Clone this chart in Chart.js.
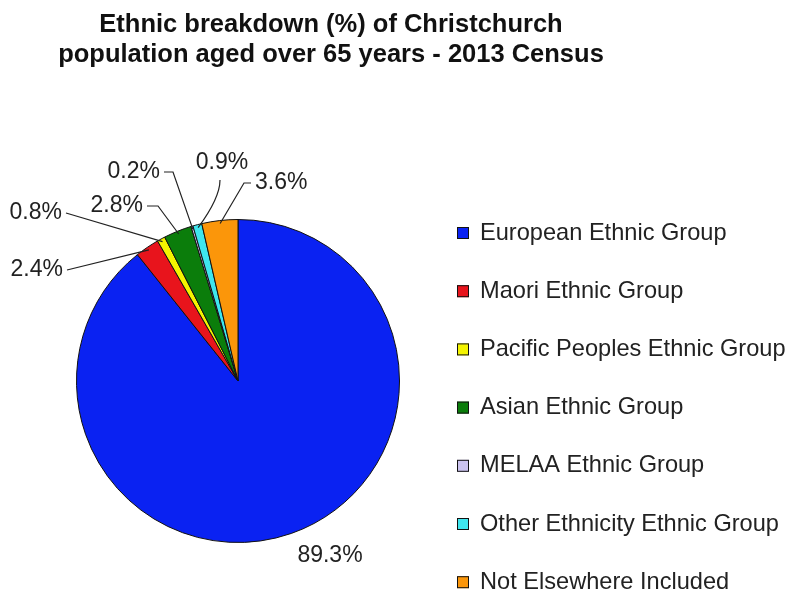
<!DOCTYPE html>
<html>
<head>
<meta charset="utf-8">
<script src="https://cdn.jsdelivr.net/npm/chart.js@4.4.1/dist/chart.umd.min.js"></script>
<style>
  html, body { margin: 0; padding: 0; background: #ffffff; }
  #wrap { width: 792px; height: 593px; }
</style>
</head>
<body>
<div id="wrap"><canvas id="myChart" width="792" height="593"></canvas></div>
<script>
const titleLines = [
  "Ethnic breakdown (%) of Christchurch",
  "population aged over 65 years - 2013 Census",
];
const groups = [
  "European Ethnic Group",
  "Maori Ethnic Group",
  "Pacific Peoples Ethnic Group",
  "Asian Ethnic Group",
  "MELAA Ethnic Group",
  "Other Ethnicity Ethnic Group",
  "Not Elsewhere Included",
];
const shares = [89.3, 2.4, 0.8, 2.8, 0.2, 0.9, 3.6];
const sliceColors = [
  "#0a22f2", "#e8141c", "#f4f400", "#0b7d0b", "#cbc3ef", "#3ee6ee", "#fb960a",
];

// where each percentage label sits, relative to the pie centre
const labelSpots = [
  { dx: 92, dy: 175, align: "center", line: "none" },
  { dx: -175, dy: -111, align: "right", line: "straight" },
  { dx: -176, dy: -168, align: "right", line: "straight" },
  { dx: -95, dy: -175, align: "right", line: "elbow", elbow: 11 },
  { dx: -78, dy: -209, align: "right", line: "elbow", elbow: 9 },
  { dx: -16, dy: -218, align: "center", line: "below" },
  { dx: 17, dy: -198, align: "left", line: "elbow", elbow: 7 },
];

const FONT = "'Liberation Sans', Arial, Helvetica, sans-serif";

const piePainter = {
  id: "piePainter",
  beforeDraw(chart) {
    const ctx = chart.ctx;
    ctx.save();
    ctx.fillStyle = "#ffffff";
    ctx.fillRect(0, 0, chart.width, chart.height);
    ctx.restore();
  },
  afterDraw(chart) {
    const ctx = chart.ctx;
    ctx.save();

    // title
    ctx.fillStyle = "#111111";
    ctx.font = "bold 25.5px " + FONT;
    ctx.textAlign = "center";
    ctx.textBaseline = "middle";
    titleLines.forEach((t, i) => ctx.fillText(t, 331, 25 + i * 30));

    // percentage labels with leader lines
    const meta = chart.getDatasetMeta(0);
    ctx.font = "23px " + FONT;
    ctx.strokeStyle = "#222222";
    ctx.lineWidth = 1.2;
    meta.data.forEach((arc, i) => {
      const p = arc.getProps(["x", "y", "startAngle", "endAngle", "outerRadius"], true);
      const spot = labelSpots[i];
      const tx = p.x + spot.dx;
      const ty = p.y + spot.dy;
      const mid = (p.startAngle + p.endAngle) / 2;
      const ex = p.x + Math.cos(mid) * (p.outerRadius - 3);
      const ey = p.y + Math.sin(mid) * (p.outerRadius - 3);
      const text = shares[i].toFixed(1) + "%";
      ctx.fillStyle = "#222222";
      ctx.textAlign = spot.align;
      ctx.textBaseline = "middle";
      ctx.fillText(text, tx, ty);
      ctx.beginPath();
      if (spot.line === "straight") {
        ctx.moveTo(tx + 4, ty);
        ctx.lineTo(ex, ey);
      } else if (spot.line === "elbow") {
        const dir = spot.align === "right" ? 1 : -1;
        const sx = tx + dir * 4;
        ctx.moveTo(sx, ty);
        ctx.lineTo(sx + dir * spot.elbow, ty);
        ctx.lineTo(ex, ey);
      } else if (spot.line === "below") {
        ctx.moveTo(tx - 2, ty + 17);
        ctx.quadraticCurveTo(tx - 2, ty + 35, ex, ey);
      }
      ctx.stroke();
    });

    // legend
    ctx.font = "23.6px " + FONT;
    ctx.textAlign = "left";
    ctx.textBaseline = "middle";
    groups.forEach((g, i) => {
      const y = 233 + i * 58.2;
      ctx.fillStyle = sliceColors[i];
      ctx.fillRect(457, y - 6, 12, 12);
      ctx.strokeStyle = "#111111";
      ctx.lineWidth = 1;
      ctx.strokeRect(457.5, y - 5.5, 11, 11);
      ctx.fillStyle = "#222222";
      ctx.fillText(g, 480, y);
    });

    ctx.restore();
  },
};

const ctx = document.getElementById("myChart").getContext("2d");
const myChart = new Chart(ctx, {
  type: "pie",
  data: {
    labels: groups,
    datasets: [
      {
        data: shares,
        backgroundColor: sliceColors,
        borderColor: "#111111",
        borderWidth: 1,
      },
    ],
  },
  options: {
    responsive: false,
    animation: false,
    layout: {
      padding: { left: 76, right: 392, top: 219, bottom: 50 },
    },
    plugins: {
      legend: { display: false },
      tooltip: { enabled: false },
      title: { display: false },
    },
  },
  plugins: [piePainter],
});
</script>
</body>
</html>
